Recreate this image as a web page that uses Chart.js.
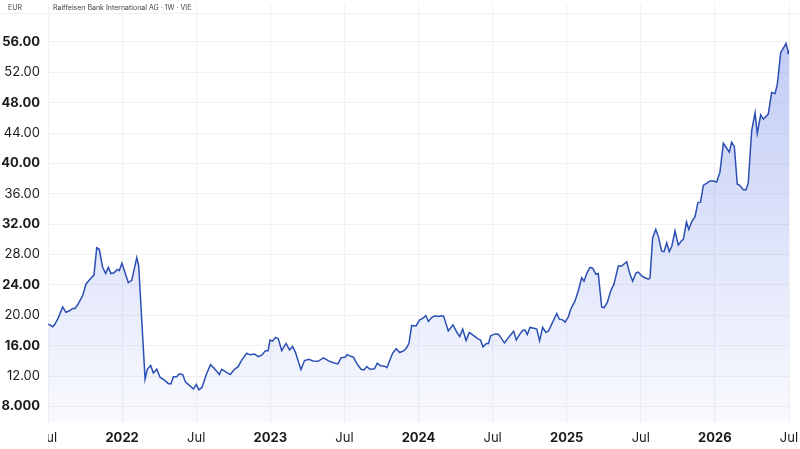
<!DOCTYPE html>
<html>
<head>
<meta charset="utf-8">
<script src="https://cdn.jsdelivr.net/npm/chart.js@4.4.1/dist/chart.umd.min.js"></script>
<style>
  html, body { margin: 0; padding: 0; background: #fff; }
  #wrap { position: relative; width: 800px; height: 449px; }
  #header {
    position: absolute; left: 0; top: 0; width: 800px; height: 13px;
    border-bottom: 1px solid #f2f2f2;
    font-family: Inter, "Liberation Sans", sans-serif; font-size: 7px; color: #444;
  }
  #header span { position: absolute; top: 4px; line-height: 8px; }
</style>
</head>
<body>
<div id="wrap">
  <canvas id="chart" width="800" height="449"></canvas>
  <div id="header"><span style="left:8px">EUR</span><span style="left:53px">Raiffeisen Bank International AG · 1W · VIE</span></div>
</div>
<script>
// weekly closes, x = decimal year
const years = [
  2021.502, 2021.532, 2021.547, 2021.570, 2021.599, 2021.621, 2021.644, 2021.667, 2021.682, 2021.704,
  2021.734, 2021.756, 2021.783, 2021.810, 2021.829, 2021.846, 2021.869, 2021.889, 2021.907, 2021.925,
  2021.945, 2021.968, 2021.981, 2021.999, 2022.020, 2022.042, 2022.065, 2022.099, 2022.112, 2022.155,
  2022.170, 2022.193, 2022.211, 2022.234, 2022.256, 2022.290, 2022.312, 2022.330, 2022.346, 2022.368,
  2022.386, 2022.409, 2022.428, 2022.458, 2022.482, 2022.501, 2022.518, 2022.539, 2022.570, 2022.597,
  2022.627, 2022.656, 2022.672, 2022.704, 2022.730, 2022.758, 2022.782, 2022.807, 2022.841, 2022.863,
  2022.893, 2022.920, 2022.944, 2022.968, 2022.985, 2022.998, 2023.015, 2023.035, 2023.054, 2023.077,
  2023.106, 2023.130, 2023.150, 2023.170, 2023.207, 2023.231, 2023.261, 2023.288, 2023.322, 2023.359,
  2023.393, 2023.426, 2023.457, 2023.477, 2023.507, 2023.518, 2023.541, 2023.561, 2023.582, 2023.612,
  2023.632, 2023.651, 2023.673, 2023.703, 2023.722, 2023.745, 2023.771, 2023.787, 2023.804, 2023.825,
  2023.850, 2023.873, 2023.902, 2023.922, 2023.936, 2023.954, 2023.983, 2024.008, 2024.028, 2024.049,
  2024.067, 2024.089, 2024.111, 2024.134, 2024.157, 2024.169, 2024.201, 2024.233, 2024.258, 2024.278,
  2024.298, 2024.321, 2024.343, 2024.375, 2024.402, 2024.418, 2024.435, 2024.458, 2024.472, 2024.487,
  2024.516, 2024.539, 2024.555, 2024.580, 2024.601, 2024.617, 2024.642, 2024.660, 2024.683, 2024.703,
  2024.719, 2024.734, 2024.752, 2024.779, 2024.798, 2024.817, 2024.838, 2024.860, 2024.876, 2024.899,
  2024.933, 2024.950, 2024.973, 2024.989, 2025.011, 2025.027, 2025.056, 2025.078, 2025.101, 2025.117,
  2025.135, 2025.157, 2025.175, 2025.198, 2025.213, 2025.236, 2025.252, 2025.274, 2025.297, 2025.319,
  2025.348, 2025.371, 2025.405, 2025.427, 2025.445, 2025.468, 2025.483, 2025.506, 2025.528, 2025.551,
  2025.562, 2025.580, 2025.601, 2025.618, 2025.641, 2025.657, 2025.675, 2025.692, 2025.709, 2025.731,
  2025.753, 2025.776, 2025.787, 2025.808, 2025.824, 2025.844, 2025.866, 2025.885, 2025.903, 2025.922,
  2025.945, 2025.967, 2025.989, 2026.012, 2026.034, 2026.057, 2026.080, 2026.097, 2026.113, 2026.131,
  2026.151, 2026.169, 2026.192, 2026.210, 2026.225, 2026.248, 2026.271, 2026.286, 2026.309, 2026.327,
  2026.360, 2026.383, 2026.406, 2026.421, 2026.444, 2026.462, 2026.480, 2026.489, 2026.500
];
const prices = [
  18.85, 18.5, 18.85, 19.7, 21.1, 20.4, 20.6, 20.9, 20.9, 21.5,
  22.6, 24.1, 24.75, 25.3, 28.9, 28.7, 26.3, 25.5, 26.3, 25.5,
  25.6, 26.05, 25.9, 26.85, 25.6, 24.3, 24.6, 27.6, 26.5, 11.6,
  12.9, 13.4, 12.4, 12.9, 11.85, 11.4, 11.0, 11.0, 11.9, 11.9,
  12.3, 12.2, 11.2, 10.7, 10.3, 10.9, 10.2, 10.5, 12.3, 13.5,
  12.9, 12.2, 12.9, 12.5, 12.2, 12.9, 13.2, 14.1, 15.0, 14.8,
  14.9, 14.55, 14.8, 15.35, 15.35, 16.75, 16.6, 17.1, 16.9, 15.35,
  16.3, 15.45, 15.9, 15.1, 12.85, 14.05, 14.2, 14.0, 13.95, 14.4,
  14.0, 13.75, 13.6, 14.4, 14.5, 14.85, 14.6, 14.5, 13.7, 12.9,
  12.8, 13.25, 12.9, 12.95, 13.7, 13.35, 13.3, 13.1, 13.95, 15.0,
  15.6, 15.1, 15.35, 15.8, 16.35, 18.65, 18.6, 19.4, 19.6, 19.95,
  19.2, 19.7, 19.95, 19.85, 19.95, 19.9, 17.95, 18.75, 17.8, 17.2,
  18.2, 16.7, 17.75, 17.3, 16.9, 16.75, 15.85, 16.3, 16.3, 17.3,
  17.55, 17.5, 17.1, 16.35, 16.9, 17.3, 17.9, 16.75, 17.5, 18.0,
  18.05, 17.45, 18.4, 18.3, 18.2, 16.65, 18.4, 17.75, 17.9, 18.85,
  20.25, 19.5, 19.4, 19.1, 19.8, 20.8, 21.9, 23.2, 24.95, 24.5,
  25.5, 26.3, 26.2, 25.4, 25.5, 21.1, 21.0, 21.7, 23.2, 24.1,
  26.5, 26.5, 27.05, 25.4, 24.5, 25.6, 25.7, 25.2, 24.95, 24.75,
  24.9, 30.2, 31.3, 30.4, 28.45, 28.4, 29.55, 28.4, 29.1, 31.1,
  29.25, 29.85, 30.0, 32.3, 31.3, 32.35, 33.0, 34.85, 34.9, 37.1,
  37.4, 37.7, 37.7, 37.55, 38.85, 42.65, 42.0, 41.5, 42.8, 42.25,
  37.3, 37.1, 36.55, 36.55, 37.4, 44.3, 46.7, 43.95, 46.4, 45.85,
  46.5, 49.35, 49.2, 50.4, 54.6, 55.2, 55.8, 55.1, 54.6
];
const xTicks = [2021.5, 2022, 2022.5, 2023, 2023.5, 2024, 2024.5, 2025, 2025.5, 2026, 2026.5];
const xTickLabels = ['Jul', '2022', 'Jul', '2023', 'Jul', '2024', 'Jul', '2025', 'Jul', '2026', 'Jul'];
const yTicks = [8, 12, 16, 20, 24, 28, 32, 36, 40, 44, 48, 52, 56];

const FONT = 'Inter, "Liberation Sans", sans-serif';
const lineColor = '#2b4fb3';

// the first "Jul" is cut at the plot edge in the original
const clipFirstLabel = {
  id: 'clipFirstLabel',
  afterDraw(chart) {
    const { ctx, chartArea } = chart;
    ctx.save();
    ctx.fillStyle = '#fff';
    ctx.fillRect(0, chartArea.bottom + 1, chartArea.left, chart.height - chartArea.bottom);
    ctx.restore();
  }
};

new Chart(document.getElementById('chart'), {
  type: 'line',
  data: {
    datasets: [{
      data: years.map((t, i) => ({ x: t, y: prices[i] })),
      borderColor: lineColor,
      borderWidth: 1.5,
      pointRadius: ctx => ctx.dataIndex === prices.length - 1 ? 2 : 0,
      pointBackgroundColor: lineColor,
      pointBorderWidth: 0,
      tension: 0,
      fill: 'start',
      backgroundColor: ctx => {
        const area = ctx.chart.chartArea;
        if (!area) return 'rgba(70,100,220,0.12)';
        const g = ctx.chart.ctx.createLinearGradient(0, area.top, 0, area.bottom);
        g.addColorStop(0, 'rgba(70,100,225,0.36)');
        g.addColorStop(1, 'rgba(70,100,225,0.03)');
        return g;
      }
    }]
  },
  options: {
    responsive: false,
    animation: false,
    devicePixelRatio: 1,
    layout: { padding: { top: 0, right: 11, left: 0, bottom: 0 } },
    plugins: { legend: { display: false }, tooltip: { enabled: false } },
    scales: {
      x: {
        type: 'linear',
        min: 2021.5,
        max: 2026.5,
        afterBuildTicks: s => { s.ticks = xTicks.map(v => ({ value: v })); },
        afterFit: s => { s.height = 26; s.paddingLeft = 0; s.paddingRight = 0; },
        grid: { color: '#f1f1f3', drawTicks: false },
        border: { display: false },
        ticks: {
          autoSkip: false,
          maxRotation: 0,
          padding: 7,
          color: '#1a1a1a',
          callback: (v, i) => xTickLabels[i],
          font: ctx => ({ family: FONT, size: 13, weight: (xTickLabels[ctx.index] || '').length === 4 ? 'bold' : 'normal' })
        }
      },
      y: {
        min: 5.82,
        max: 61.0,
        afterBuildTicks: s => { s.ticks = yTicks.map(v => ({ value: v })); },
        afterFit: s => { s.width = 48; s.paddingTop = 0; s.paddingBottom = 0; },
        grid: { color: '#f1f1f3', drawTicks: false },
        border: { display: false },
        ticks: {
          padding: 8,
          color: '#1a1a1a',
          callback: v => v < 10 ? v.toFixed(3) : v.toFixed(2),
          font: ctx => ({ family: FONT, size: 13, weight: ctx.tick && ctx.tick.value % 8 === 0 ? 'bold' : 'normal' })
        }
      }
    }
  },
  plugins: [clipFirstLabel]
});
</script>
</body>
</html>
